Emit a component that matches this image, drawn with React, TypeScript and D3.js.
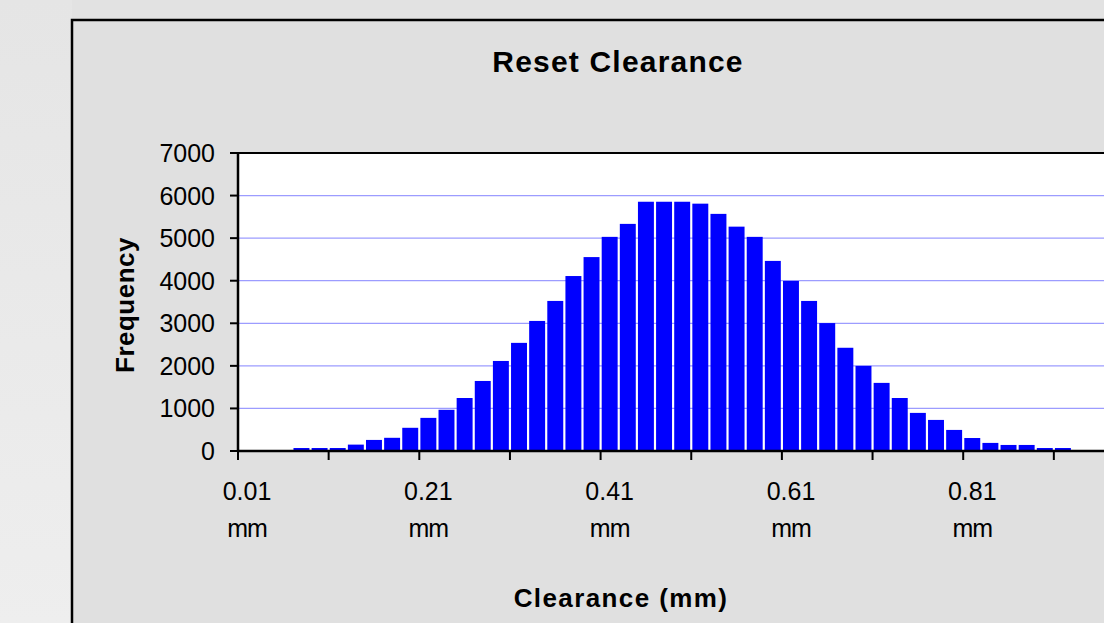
import React from "react";
import * as d3 from "d3";

const categories: string[] = [
  "0.01", "0.03", "0.05", "0.07", "0.09", "0.11", "0.13", "0.15", "0.17", "0.19",
  "0.21", "0.23", "0.25", "0.27", "0.29", "0.31", "0.33", "0.35", "0.37", "0.39",
  "0.41", "0.43", "0.45", "0.47", "0.49", "0.51", "0.53", "0.55", "0.57", "0.59",
  "0.61", "0.63", "0.65", "0.67", "0.69", "0.71", "0.73", "0.75", "0.77", "0.79",
  "0.81", "0.83", "0.85", "0.87", "0.89", "0.91", "0.93", "0.95", "0.97", "0.99",
];

const frequency: number[] = [
  0, 0, 0, 70, 70, 70, 150, 260, 310, 545,
  778, 968, 1245, 1645, 2115, 2540, 3055, 3525, 4110, 4555,
  5030, 5335, 5855, 5855, 5855, 5810, 5570, 5270, 5030, 4465,
  3995, 3525, 3005, 2425, 2000, 1600, 1245, 895, 730, 495,
  305, 190, 142, 142, 70, 70, 0, 0, 0, 0,
];

const yTicks: number[] = [0, 1000, 2000, 3000, 4000, 5000, 6000, 7000];
const xLabelCats: string[] = ["0.01", "0.21", "0.41", "0.61", "0.81"];

const FONT = "Arial, 'Liberation Sans', sans-serif";

export default function App() {
  const W = 1104;
  const H = 623;
  const left = 238;
  const top = 153;
  const bottom = 451;
  const catW = 18.13;
  const right = left + catW * categories.length;

  const x = d3.scaleBand<string>().domain(categories).range([left, right]).paddingInner(0.12).paddingOuter(0.06);
  const xb = d3.scaleBand<string>().domain(categories).range([left, right]);
  const y = d3.scaleLinear().domain([0, 7000]).range([bottom, top]);

  const tickIdx = categories.map((_, i) => i).filter((i) => i % 5 === 0);

  return (
    <div style={{ position: "absolute", left: 0, top: 0, width: W, height: H, overflow: "hidden" }}>
      <svg width={W} height={H} style={{ display: "block" }}>
        <defs>
          <linearGradient id="bg" x1="0" y1="0" x2="1" y2="1">
            <stop offset="0" stopColor="#e4e4e4" />
            <stop offset="0.5" stopColor="#e6e6e6" />
            <stop offset="1" stopColor="#e0e0e0" />
          </linearGradient>
          <linearGradient id="bgl" x1="0" y1="0" x2="0" y2="1">
            <stop offset="0" stopColor="#e5e5e5" />
            <stop offset="1" stopColor="#eeeeee" />
          </linearGradient>
        </defs>
        <rect x={0} y={0} width={W} height={H} fill="#e2e2e2" />
        <rect x={0} y={0} width={72} height={H} fill="url(#bgl)" />
        {/* chart area */}
        <rect x={72} y={20} width={W + 40} height={H + 40} fill="#e0e0e0" stroke="#000" strokeWidth={2.5} />
        {/* title */}
        <text x={618} y={72} textAnchor="middle" fontFamily={FONT} fontWeight="bold" fontSize={30} letterSpacing={1.2} fill="#000">
          Reset Clearance
        </text>
        {/* plot area */}
        <rect x={left} y={top} width={right - left} height={bottom - top} fill="#ffffff" />
        {yTicks.filter((t) => t > 0 && t < 7000).map((t) => (
          <line key={"g" + t} x1={left} x2={right} y1={y(t)} y2={y(t)} stroke="#9c9cff" strokeWidth={1.2} />
        ))}
        {/* bars */}
        {categories.map((c, i) => (
          frequency[i] > 0 ? (
            <rect key={c} x={x(c)} y={y(frequency[i])} width={x.bandwidth()} height={bottom - y(frequency[i])} fill="#0000ff" />
          ) : null
        ))}
        {/* plot border top */}
        <line x1={left} x2={right} y1={top} y2={top} stroke="#000" strokeWidth={2} />
        {/* y axis */}
        <line x1={left} x2={left} y1={top - 1} y2={bottom + 1} stroke="#000" strokeWidth={2.5} />
        {yTicks.map((t) => (
          <g key={"y" + t}>
            <line x1={left - 8} x2={left} y1={y(t)} y2={y(t)} stroke="#000" strokeWidth={2} />
            <text x={215} y={y(t)} dy="0.36em" textAnchor="end" fontFamily={FONT} fontSize={25} fill="#000">
              {t}
            </text>
          </g>
        ))}
        {/* x axis */}
        <line x1={left - 1} x2={right} y1={bottom} y2={bottom} stroke="#000" strokeWidth={2.5} />
        {tickIdx.map((i) => (
          <line key={"xt" + i} x1={xb(categories[i])!} x2={xb(categories[i])!} y1={bottom} y2={bottom + 9} stroke="#000" strokeWidth={2} />
        ))}
        {xLabelCats.map((c) => {
          const cx = (xb(c) as number) + xb.bandwidth() / 2;
          return (
            <g key={"xl" + c}>
              <text x={cx} y={500} textAnchor="middle" fontFamily={FONT} fontSize={25} fill="#000">{c}</text>
              <text x={cx} y={537} textAnchor="middle" fontFamily={FONT} fontSize={25} letterSpacing={-1} fill="#000">mm</text>
            </g>
          );
        })}
        {/* axis titles */}
        <text x={621} y={607} textAnchor="middle" fontFamily={FONT} fontWeight="bold" fontSize={26} letterSpacing={1.4} fill="#000">
          Clearance (mm)
        </text>
        <text transform="translate(134,305) rotate(-90)" textAnchor="middle" fontFamily={FONT} fontWeight="bold" fontSize={26} letterSpacing={0.5} fill="#000">
          Frequency
        </text>
      </svg>
    </div>
  );
}
